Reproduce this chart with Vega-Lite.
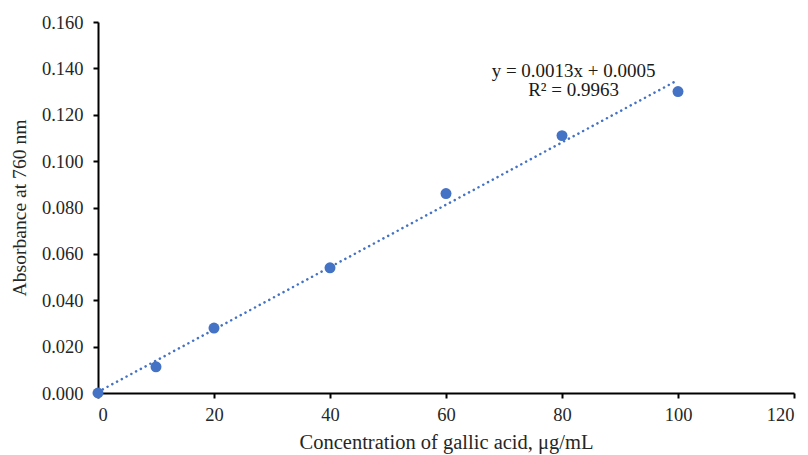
{
  "$schema": "https://vega.github.io/schema/vega-lite/v6.json",
  "autosize": "none",
  "width": 696,
  "height": 371,
  "padding": {"left": 98, "top": 22, "right": 14, "bottom": 62},
  "background": "white",
  "config": {
    "view": {"stroke": null},
    "font": "Liberation Serif",
    "axis": {
      "grid": false,
      "domainColor": "black",
      "domainWidth": 2,
      "tickColor": "black",
      "tickWidth": 2,
      "tickSize": 5,
      "labelFont": "Liberation Serif",
      "labelFontSize": 18.5,
      "labelColor": "#262626",
      "titleFont": "Liberation Serif",
      "titleFontSize": 20,
      "titleFontWeight": "normal",
      "titleColor": "#262626"
    }
  },
  "datasets": {
    "pts": [
      {"conc": 0, "abs": 0.0},
      {"conc": 10, "abs": 0.0113},
      {"conc": 20, "abs": 0.028},
      {"conc": 40, "abs": 0.054},
      {"conc": 60, "abs": 0.086},
      {"conc": 80, "abs": 0.111},
      {"conc": 100, "abs": 0.130}
    ],
    "labels": [
      {"conc": 82, "abs": 0.1390, "t": "y = 0.0013x  + 0.0005"},
      {"conc": 82, "abs": 0.1306, "t": "R² = 0.9963"}
    ]
  },
  "layer": [
    {
      "data": {"name": "pts"},
      "transform": [{"regression": "abs", "on": "conc", "extent": [0, 100]}],
      "mark": {"type": "line", "color": "#4472C4", "strokeWidth": 2.5, "strokeCap": "round", "strokeDash": [0.1, 5.3], "clip": false},
      "encoding": {
        "x": {"field": "conc", "type": "quantitative", "scale": {"domain": [0, 120], "nice": false, "zero": false},
          "axis": {"values": [0, 20, 40, 60, 80, 100, 120], "title": "Concentration of gallic acid, μg/mL", "titleFontSize": 20.5, "labelPadding": 7, "titlePadding": 9}},
        "y": {"field": "abs", "type": "quantitative", "scale": {"domain": [0, 0.16], "nice": false},
          "axis": {"values": [0, 0.02, 0.04, 0.06, 0.08, 0.1, 0.12, 0.14, 0.16], "format": ".3f", "title": "Absorbance at 760 nm", "titleFontSize": 19.6, "labelPadding": 10, "titlePadding": 12}}
      }
    },
    {
      "data": {"name": "pts"},
      "mark": {"type": "point", "filled": true, "size": 120, "color": "#4472C4", "opacity": 1, "clip": false},
      "encoding": {
        "x": {"field": "conc", "type": "quantitative"},
        "y": {"field": "abs", "type": "quantitative"}
      }
    },
    {
      "data": {"name": "labels"},
      "mark": {"type": "text", "font": "Liberation Serif", "fontSize": 19, "color": "#1a1a1a", "align": "center", "baseline": "middle"},
      "encoding": {
        "x": {"field": "conc", "type": "quantitative"},
        "y": {"field": "abs", "type": "quantitative"},
        "text": {"field": "t"}
      }
    }
  ]
}
